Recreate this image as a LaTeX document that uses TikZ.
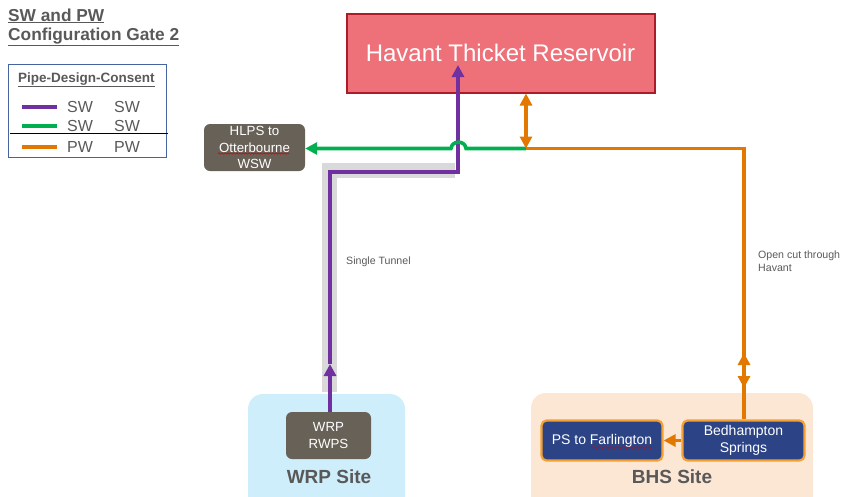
\documentclass[tikz,border=0pt]{standalone}
\usepackage{fontspec}
\setmainfont{Liberation Sans}
\usetikzlibrary{arrows.meta,decorations.pathmorphing}
\definecolor{swpurple}{RGB}{112,48,160}
\definecolor{swgreen}{RGB}{0,176,80}
\definecolor{pworange}{RGB}{226,120,0}
\definecolor{txtgray}{RGB}{89,89,89}
\definecolor{taupe}{RGB}{104,97,88}
\definecolor{resfill}{RGB}{238,112,121}
\definecolor{resedge}{RGB}{172,28,40}
\definecolor{wrpbg}{RGB}{206,238,252}
\definecolor{bhsbg}{RGB}{252,231,212}
\definecolor{navy}{RGB}{44,68,134}
\definecolor{navyedge}{RGB}{245,160,50}
\definecolor{tunnelgray}{RGB}{217,217,217}
\definecolor{legendedge}{RGB}{70,100,160}
\newcommand{\fs}[2]{\fontsize{#1}{#2}\selectfont}
\begin{document}
\begin{tikzpicture}[x=1pt,y=-1pt,
  pipe/.style={line width=3.6pt},
  tipend/.style={-{Triangle[length=12pt,width=12pt]}},
  tipboth/.style={{Triangle[length=12pt,width=12pt]}-{Triangle[length=12pt,width=12pt]}},
  darkbox/.style={fill=taupe,text=white,rounded corners=6pt,inner sep=0pt,align=center,font=\fs{13.3}{16.5}},
  sitebox/.style={rounded corners=15pt,draw=none},
  bluebox/.style={fill=navy,draw=navyedge,line width=2.2pt,text=white,rounded corners=5pt,inner sep=0pt,align=center,font=\fs{14}{17}},
  sitelabel/.style={text=txtgray,font=\bfseries\fs{19}{22}},
  note/.style={text=txtgray,font=\fs{10.6}{13},align=left,anchor=north west,inner sep=0pt},
  legtxt/.style={text=txtgray,font=\fs{16}{18},anchor=base west,inner sep=0pt},
  squiggle/.style={draw=red!85!black,line width=0.6pt,decorate,decoration={snake,amplitude=0.7pt,segment length=3pt}}
]
\useasboundingbox (0,0) rectangle (841,496);

% title
\node[anchor=base west,inner sep=0pt,text=txtgray,font=\bfseries\fs{17.3}{20}] (t1) at (8,21) {\underline{SW and PW}};
\node[anchor=base west,inner sep=0pt,text=txtgray,font=\bfseries\fs{17.3}{20}] (t2) at (8,40) {\underline{Configuration Gate 2}};

% legend
\draw[legendedge,line width=0.8pt] (8,64.5) rectangle (166.5,157);
\node[anchor=base west,inner sep=0pt,text=txtgray,font=\bfseries\fs{13.5}{16}] (lg) at (18,82) {\underline{Pipe-Design-Consent}};
\draw[pipe,swpurple] (22,107) -- (57,107);
\draw[pipe,swgreen] (22,126) -- (57,126);
\draw[pipe,pworange] (22,147) -- (57,147);
\node[legtxt] (l1a) at (67,112) {SW};
\node[legtxt] (l1b) at (114,112) {SW};
\node[legtxt] (l2a) at (67,131) {SW};
\node[legtxt] (l2b) at (114,131) {SW};
\node[legtxt] (l3a) at (67,152) {PW};
\node[legtxt] (l3b) at (114,152) {PW};
\draw[black,line width=1pt] (10,133.5) -- (168,133.5);

% sites
\fill[wrpbg,sitebox] (248,394) rectangle (405,510);
\fill[bhsbg,sitebox] (531,393) rectangle (813,510);
\node[sitelabel] (wrpsite) at (329,477) {WRP Site};
\node[sitelabel] (bhssite) at (672,477) {BHS Site};

% reservoir
\node[fill=resfill,draw=resedge,line width=2pt,minimum width=308pt,minimum height=79pt,text=white,font=\fs{24}{28}] (res) at (500.5,53) {Havant Thicket Reservoir};

% boxes
\node[darkbox,minimum width=101pt,minimum height=47pt] (hlps) at (254.5,147.5) {HLPS to\\Otterbourne\\WSW};
\node[darkbox,minimum width=85pt,minimum height=47pt] (rwps) at (328.5,435.5) {WRP\\RWPS};
\node[bluebox,minimum width=121pt,minimum height=40pt] (ps) at (602,440.5) {PS to Farlington};
\node[bluebox,minimum width=122pt,minimum height=40pt] (bed) at (743.5,440.5) {Bedhampton\\Springs};

% spelling marks under two words
\draw[squiggle] (218,153.5) -- (289,153.5);
\draw[squiggle] (591,447.5) -- (652,447.5);

% notes
\node[note] (tunnel) at (346,257) {Single Tunnel};
\node[note] (opencut) at (758,251) {Open cut through\\Havant};

% key points of the routes
\coordinate (jn) at (526,148.5);
\coordinate (ocorner) at (744,148.5);
\coordinate (pbend) at (330,172);
\coordinate (pturn) at (458,172);
\coordinate (pend) at (458,65);
\coordinate (pmid) at (330,364);
\coordinate (hopa) at (466,148.5);
\coordinate (hopb) at (451,148.5);
\coordinate (dup) at (744,353);
\coordinate (ddown) at (744,388);
\coordinate (tunA) at (329,392);
\coordinate (tunB) at (329,170);
\coordinate (tunC) at (455,170);

% tunnel band
\draw[tunnelgray,line width=15pt] (tunA) -- (tunB) -- (tunC);

% purple SW main
\draw[pipe,swpurple,tipend] (rwps.north -| pbend) -- (pmid);
\draw[pipe,swpurple,tipend,line join=miter] (pmid) -- (pbend) -- (pturn) -- (pend);

% green SW to HLPS, hopping over the purple main
\draw[pipe,swgreen,tipend] (jn) -- (hopa) .. controls (465,140) and (452,140) .. (hopb) -- (hopb -| hlps.east);

% orange PW
\draw[pipe,pworange,tipboth] (jn) -- (res.south -| jn);
\draw[pipe,pworange,line join=miter] (jn) -- (ocorner) -- (bed.north -| ocorner);
\draw[pipe,pworange,tipboth] (ddown) -- (dup);
\draw[pipe,pworange,tipend] (bed.west) -- (ps.east);
\end{tikzpicture}
\end{document}
